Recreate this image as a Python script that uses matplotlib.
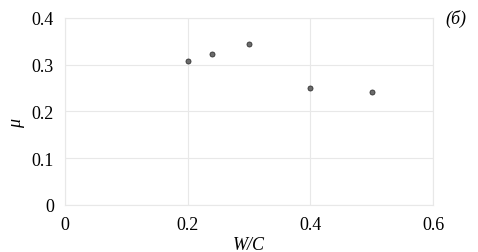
import matplotlib.pyplot as plt

wc = [0.2, 0.24, 0.3, 0.4, 0.5]
mu = [0.308, 0.323, 0.344, 0.250, 0.242]
x_ticks = [0, 0.2, 0.4, 0.6]
y_ticks = [0, 0.1, 0.2, 0.3, 0.4]

plt.rcParams['font.family'] = ['Liberation Serif', 'DejaVu Serif']

fig = plt.figure(figsize=(4.78, 2.53), dpi=100)
ax = fig.add_axes([0.136, 0.186, 0.770, 0.739])

ax.scatter(wc, mu, s=13, color='#6b6b6b', edgecolor='#333333', linewidth=0.6, zorder=3)

ax.set_xlim(0, 0.6)
ax.set_ylim(0, 0.4)
ax.set_xticks(x_ticks)
ax.set_xticklabels(['0', '0.2', '0.4', '0.6'])
ax.set_yticks(y_ticks)
ax.set_yticklabels(['0', '0.1', '0.2', '0.3', '0.4'])
ax.tick_params(length=0, labelsize=13, pad=8)
ax.grid(True, color='#e8e8e8', linewidth=0.8)
for s in ax.spines.values():
    s.set_color('#e8e8e8')
    s.set_linewidth(0.8)

ax.set_xlabel('W/C', fontsize=13, style='italic', labelpad=2)
ax.set_ylabel('μ', fontsize=13, style='italic')
ax.yaxis.set_label_coords(-0.11, 0.44)
fig.text(0.975, 0.905, '(б)', fontsize=13, style='italic', ha='right')

fig.savefig('out.png', dpi=100)
